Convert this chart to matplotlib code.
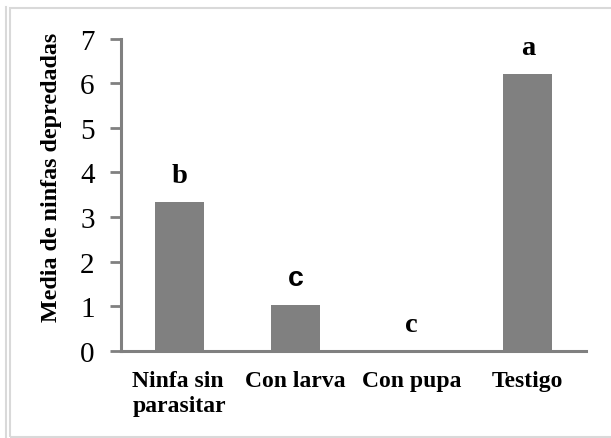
import matplotlib
matplotlib.use("Agg")
import matplotlib.pyplot as plt
from matplotlib.patches import Rectangle
from matplotlib.lines import Line2D

categories = ["Ninfa sin\nparasitar", "Con larva", "Con pupa", "Testigo"]
means = [3.33, 1.03, 0.0, 6.21]
letters = ["b", "c", "c", "a"]
yticks = [0, 1, 2, 3, 4, 5, 6, 7]

W, H = 611, 439
fig = plt.figure(figsize=(W / 100, H / 100), dpi=100)
fig.patch.set_facecolor("white")

# outer frame of the chart area
fig.add_artist(Rectangle((10 / W, 1 - 438 / H), (W + 5 - 10) / W, (438 - 8.5) / H,
                         transform=fig.transFigure, fill=False,
                         edgecolor="#d9d9d9", linewidth=1.5))
fig.add_artist(Line2D([5.5 / W, 5.5 / W], [0, 1 - 8 / H], transform=fig.transFigure,
                      color="#d9d9d9", linewidth=1.5))

ax = fig.add_axes([121 / W, 1 - 352 / H, (586 - 121) / W, (352 - 39.5) / H])

serif = "Liberation Serif"
gray = "#808080"

x = range(len(categories))
ax.bar(x, means, width=0.42, color=gray, zorder=2)

for i, (m, lab) in enumerate(zip(means, letters)):
    fam = "Liberation Sans" if i == 1 else serif
    ax.text(i, m + 0.45, lab, ha="center", va="baseline", fontsize=20.5,
            fontweight="bold", family=fam)

ax.set_xlim(-0.5, 3.5)
ax.set_ylim(0, 7)
ax.set_yticks(yticks)
ax.set_yticklabels([str(v) for v in yticks], family=serif, fontsize=21)
ax.set_xticks(list(x))
ax.set_xticklabels(categories, family=serif, fontsize=17, fontweight="bold",
                   linespacing=1.2)
for lbl in ax.get_xticklabels():
    lbl.set_horizontalalignment("center")
ax.get_xticklabels()[0].set_multialignment("left")

ax.tick_params(axis="y", direction="out", length=8, width=2, color=gray, pad=11)
ax.tick_params(axis="x", length=0, pad=14)

for side in ("top", "right"):
    ax.spines[side].set_visible(False)
for side in ("left", "bottom"):
    ax.spines[side].set_color(gray)
    ax.spines[side].set_linewidth(2.2)

ax.set_ylabel("Media de ninfas depredadas", family=serif, fontsize=17.3,
              fontweight="bold")
ax.yaxis.set_label_coords(-0.127, 0.56)

fig.savefig("out.png", dpi=100, facecolor="white")
